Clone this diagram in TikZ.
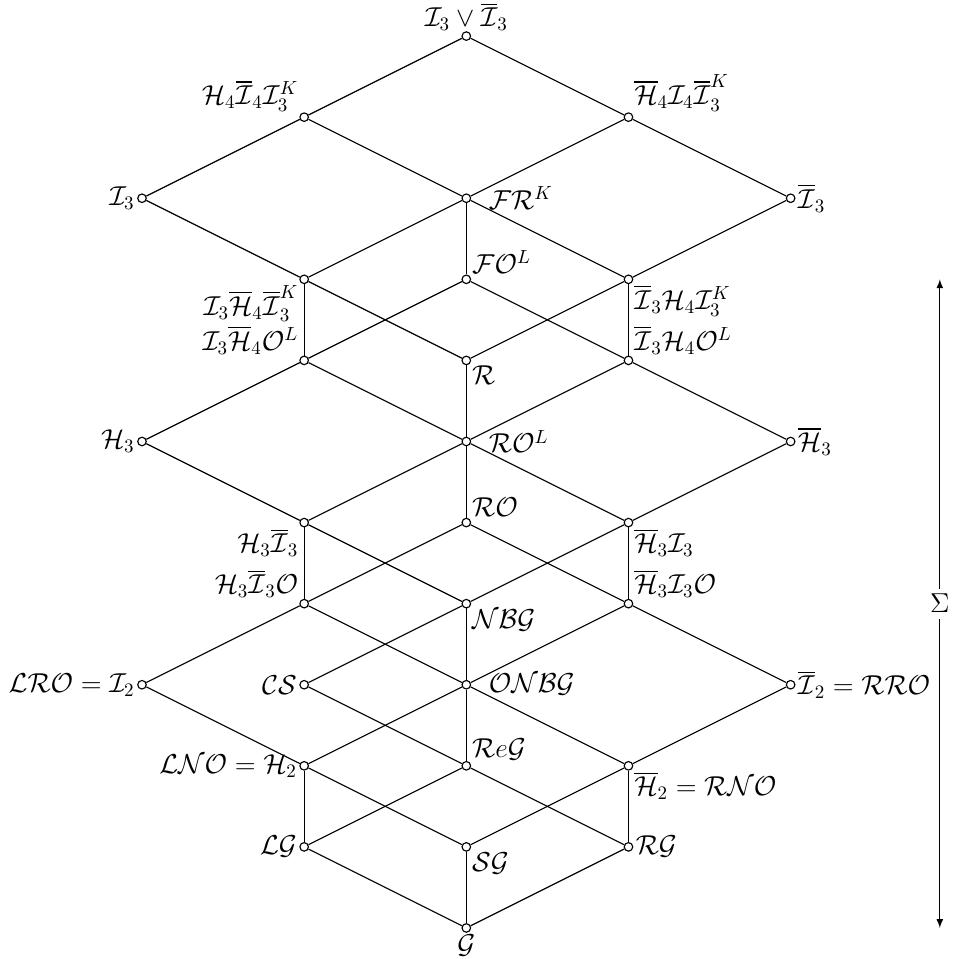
\documentclass[tikz,border=0pt]{standalone}
\usepackage{amsmath, amssymb}
\usepackage{tikz}
\usetikzlibrary{positioning}
\newcommand{\cH}{\mathcal{H}}
\newcommand{\cI}{\mathcal{I}}
\newcommand{\cF}{\mathcal{F}}
\newcommand{\cR}{\mathcal{R}}
\newcommand{\cO}{\mathcal{O}}
\newcommand{\cN}{\mathcal{N}}
\newcommand{\cB}{\mathcal{B}}
\newcommand{\cG}{\mathcal{G}}
\newcommand{\cC}{\mathcal{C}}
\newcommand{\cS}{\mathcal{S}}
\newcommand{\cL}{\mathcal{L}}

\begin{document}
\begin{tikzpicture}[
  node distance=1.5cm and 3cm, on grid,
  line width=0.6pt,
  dot/.style={circle, draw, fill=white, inner sep=0pt, minimum size=4.5pt},
  every label/.style={inner sep=1pt, font=\Large},
  label distance=0pt,
  far/.style={label distance=8pt},
  arrow/.style={<->, >=latex}
]
\useasboundingbox (-2.627,-0.574) rectangle (15.022,17.168);
% Bottom cube
\node[dot, label={below:$\cG$}] (g) at (6,0) {};
\node[dot, above left=of g, label={left:$\cL\cG$}] (lg) {};
\node[dot, above=of g, label={below right:$\cS\cG$}] (sg) {};
\node[dot, above right=of g, label={right:$\cR\cG$}] (rg) {};
\node[dot, above=of lg, label={left:$\cL\cN\cO=\cH_2$}] (lno) {};
\node[dot, above=of sg, label={above right:$\cR e\cG$}] (reg) {};
\node[dot, above=of rg, label={below right:$\overline{\cH}_2=\cR\cN\cO$}] (rno) {};
\node[dot, above left=of lno, label={left:$\cL\cR\cO=\cI_2$}] (lro) {};
\node[dot, above=of lno, label={left:$\cC\cS$}] (cs) {};
\node[dot, above=of reg, label={[far]right:$\cO\cN\cB\cG$}] (onbg) {};
\node[dot, above right=of rno, label={right:$\overline{\cI}_2=\cR\cR\cO$}] (rro) {};
% Middle cube
\node[dot, above=of cs, label={above left:$\cH_3\overline{\cI}_3\cO$}] (hio) {};
\node[dot, above=of onbg, label={below right:$\cN\cB\cG$}] (nbg) {};
\node[dot, above right=of onbg, label={above right:$\overline{\cH}_3\cI_3\cO$}] (bhio) {};
\node[dot, above=of hio, label={below left:$\cH_3\overline{\cI}_3$}] (hi) {};
\node[dot, above=of nbg, label={above right:$\cR\cO$}] (ro) {};
\node[dot, above=of bhio, label={below right:$\overline{\cH}_3\cI_3$}] (bhi) {};
\node[dot, above left=of hi, label={left:$\cH_3$}] (hthree) {};
\node[dot, above=of ro, label={[far]right:$\cR\cO^L$}] (rol) {};
\node[dot, above right=of bhi, label={right:$\overline{\cH}_3$}] (bhthree) {};
% Top cube
\node[dot, above right=of hthree, label={above left:$\cI_3\overline{\cH}_4\cO^L$}] (ihol) {};
\node[dot, above=of rol, label={below right:$\cR$}] (r) {};
\node[dot, above left=of bhthree, label={above right:$\overline{\cI}_3\cH_4\cO^L$}] (bihol) {};
\node[dot, above=of ihol, label={below left:$\cI_3\overline{\cH}_4\overline{\cI}_3^K$}] (ihik) {};
\node[dot, above=of r, label={above right:$\cF\cO^L$}] (fol) {};
\node[dot, above=of bihol, label={below right:$\overline{\cI}_3\cH_4\cI_3^K$}] (bihik) {};
\node[dot, above left=of ihik, label={left:$\cI_3$}] (ithree) {};
\node[dot, above=of fol, label={[far]right:$\cF\cR^K$}] (frk) {};
\node[dot, above right=of bihik, label={right:$\overline{\cI}_3$}] (bithree) {};
\node[dot, above right=of ithree, label={above left:$\cH_4\overline{\cI}_4\cI_3^K$}] (hiik) {};
\node[dot, above left=of bithree, label={above right:$\overline{\cH}_4\cI_4\overline{\cI}_3^K$}] (bhiik) {};
\node[dot, above right=of hiik, label={[inner sep=0pt]above:$\cI_3\vee\overline{\cI}_3$}] (ivi) {};
% Lines, top
\draw (ivi) -- (hiik) -- (ithree);
\draw (ivi) -- (bhiik) -- (bithree);
\draw (hiik) -- (frk) -- (bihik);
\draw (bhiik) -- (frk) -- (ihik);
\draw (ithree) -- (ihik) -- (r);
\draw (bithree) -- (bihik) -- (r);
\draw (frk) -- (fol);
\draw (ihik) -- (ihol);
\draw (bihik) -- (bihol);
\draw (fol) -- (ihol) -- (hthree);
\draw (fol) -- (bihol) -- (bhthree);
% Lines, middle
\draw (ihol) -- (rol) -- (bhi);
\draw (bihol) -- (rol) -- (hi);
\draw (r) -- (rol) -- (ro);
\draw (hthree) -- (hi) -- (nbg);
\draw (bhthree) -- (bhi) -- (nbg);
\draw (hi) -- (hio);
\draw (bhi) -- (bhio);
\draw (ro) -- (hio) -- (lro);
\draw (ro) -- (bhio) -- (rro);
% Lines, bottom
\draw (hio) -- (onbg) -- (rno);
\draw (bhio) -- (onbg) -- (lno);
\draw (nbg) -- (onbg) -- (reg);
\draw (nbg) -- (cs) -- (reg);
\draw (lro) -- (lno) -- (sg);
\draw (rro) -- (rno) -- (sg);
\draw (lno) -- (lg);
\draw (rno) -- (rg);
\draw (reg) -- (lg) -- (g);
\draw (reg) -- (rg) -- (g);
\draw (sg) -- (g);
% Sigma arrow
\coordinate (stop) at (14.76,12);
\coordinate (sbot) at (14.76,0);
\draw[arrow] (stop) -- node[fill=white, inner sep=3pt, font=\Large] {$\Sigma$} (sbot);
\end{tikzpicture}
\end{document}
